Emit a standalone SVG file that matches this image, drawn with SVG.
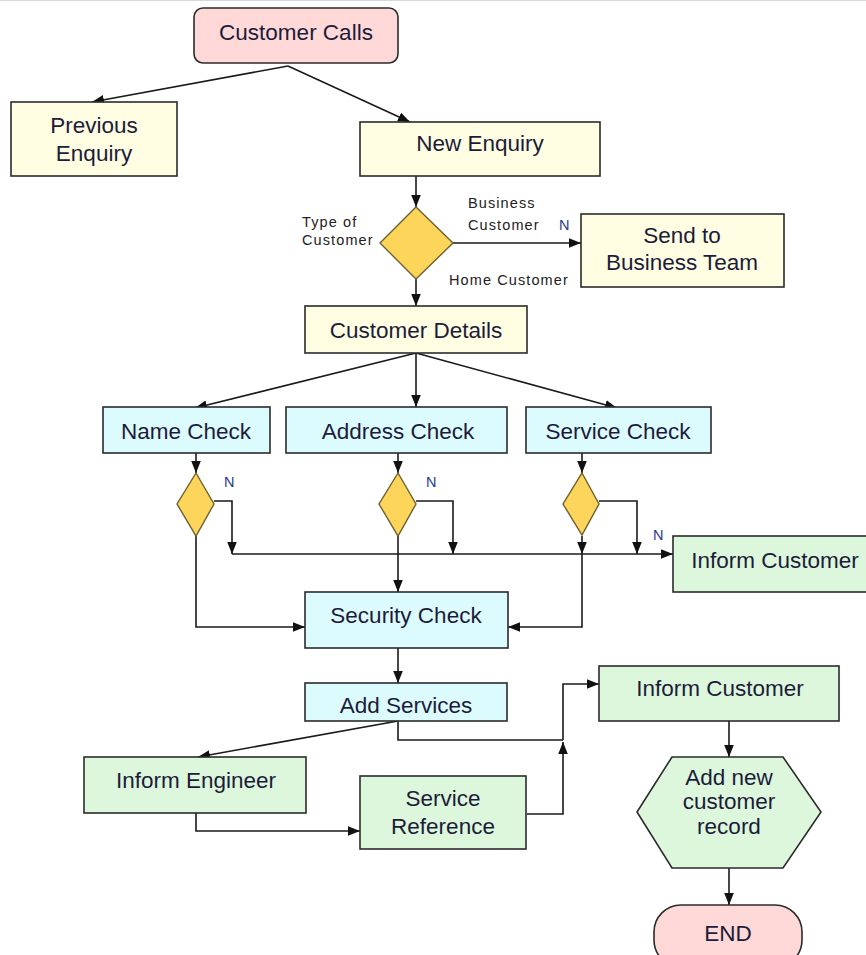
<svg xmlns="http://www.w3.org/2000/svg" width="866" height="955" viewBox="0 0 866 955">
  <style>
    .box { stroke: #2b2b2b; stroke-width: 1.6; }
    .start { fill: #ffd8d8; }
    .enq { fill: #fffde2; }
    .chk { fill: #dcfbff; }
    .act { fill: #dcf7dc; }
    .dec { fill: #fcd55a; stroke: #6e6030; stroke-width: 1.4; }
    .t { font-family: "Liberation Sans", Arial, sans-serif; font-size: 22.5px; fill: #1c1c3a; text-anchor: middle; }
    .s { font-family: "Liberation Sans", Arial, sans-serif; font-size: 14.5px; fill: #222; letter-spacing: 1.1px; }
    .n { font-family: "Liberation Sans", Arial, sans-serif; font-size: 14.5px; fill: #1e3c8c; }
    .c { fill: none; stroke: #1a1a1a; stroke-width: 1.6; }
  </style>
  <defs>
    <marker id="ah" viewBox="0 0 10 8" refX="10" refY="4" markerWidth="12" markerHeight="10" markerUnits="userSpaceOnUse" orient="auto">
      <path d="M0,0 L10,4 L0,8 z" fill="#111"/>
    </marker>
  </defs>

  <rect width="866" height="955" fill="#fff"/>
  <line x1="0" y1="0.5" x2="866" y2="0.5" stroke="#d8d8d8"/>

  <!-- connectors -->
  <g id="connectors" class="c">
    <path d="M288,66 L92,102" marker-end="url(#ah)"/>
    <path d="M288,66 L410,122" marker-end="url(#ah)"/>
    <path d="M416,176 L416,207" marker-end="url(#ah)"/>
    <path d="M453,243 L581,243" marker-end="url(#ah)"/>
    <path d="M416,279 L416,306" marker-end="url(#ah)"/>
    <path d="M416,353 L195,408" marker-end="url(#ah)"/>
    <path d="M416,353 L416,407" marker-end="url(#ah)"/>
    <path d="M416,353 L617,408" marker-end="url(#ah)"/>
    <path d="M196,453 L196,473" marker-end="url(#ah)"/>
    <path d="M398,453 L398,473" marker-end="url(#ah)"/>
    <path d="M582,453 L582,473" marker-end="url(#ah)"/>
    <path d="M214,501 L232,501 L232,554" marker-end="url(#ah)"/>
    <path d="M232,554 L673,554" marker-end="url(#ah)"/>
    <path d="M416,501 L453,501 L453,554" marker-end="url(#ah)"/>
    <path d="M599,501 L637,501 L637,554" marker-end="url(#ah)"/>
    <path d="M582,536 L582,554" marker-end="url(#ah)"/>
    <path d="M582,554 L582,627 L508,627" marker-end="url(#ah)"/>
    <path d="M196,536 L196,627 L305,627" marker-end="url(#ah)"/>
    <path d="M398,536 L398,592" marker-end="url(#ah)"/>
    <path d="M398,648 L398,683" marker-end="url(#ah)"/>
    <path d="M398,721 L198,757" marker-end="url(#ah)"/>
    <path d="M398,721 L398,740 L563,740"/>
    <path d="M527,814 L563,814 L563,742" marker-end="url(#ah)"/>
    <path d="M563,740 L563,684 L599,684" marker-end="url(#ah)"/>
    <path d="M196,813 L196,831 L360,831" marker-end="url(#ah)"/>
    <path d="M729,721 L729,757" marker-end="url(#ah)"/>
    <path d="M729,868 L729,905" marker-end="url(#ah)"/>
  </g>

  <!-- branch labels -->
  <g id="labels">
    <text class="s" x="302" y="227">Type of</text>
    <text class="s" x="302" y="245">Customer</text>
    <text class="s" x="468" y="208">Business</text>
    <text class="s" x="468" y="230">Customer</text>
    <text class="n" x="559" y="230">N</text>
    <text class="s" x="449" y="285">Home Customer</text>
    <text class="n" x="224" y="487">N</text>
    <text class="n" x="426" y="487">N</text>
    <text class="n" x="653" y="540">N</text>
  </g>

  <g id="customer-calls">
    <rect class="box start" x="194" y="8" width="204" height="55" rx="9"/>
    <text class="t" x="296" y="40">Customer Calls</text>
  </g>
  <g id="previous-enquiry">
    <rect class="box enq" x="11" y="102" width="166" height="74"/>
    <text class="t" x="94" y="133">Previous</text>
    <text class="t" x="94" y="161">Enquiry</text>
  </g>
  <g id="new-enquiry">
    <rect class="box enq" x="360" y="122" width="240" height="54"/>
    <text class="t" x="480" y="151">New Enquiry</text>
  </g>
  <g id="type-of-customer">
    <polygon class="dec" points="416,207 453,243 416,279 380,243"/>
  </g>
  <g id="send-to-business-team">
    <rect class="box enq" x="581" y="214" width="203" height="73"/>
    <text class="t" x="682" y="243">Send to</text>
    <text class="t" x="682" y="270">Business Team</text>
  </g>
  <g id="customer-details">
    <rect class="box enq" x="305" y="306" width="222" height="47"/>
    <text class="t" x="416" y="338">Customer Details</text>
  </g>
  <g id="name-check">
    <rect class="box chk" x="103" y="407" width="167" height="46"/>
    <text class="t" x="186" y="439">Name Check</text>
  </g>
  <g id="address-check">
    <rect class="box chk" x="286" y="407" width="221" height="46"/>
    <text class="t" x="398" y="439">Address Check</text>
  </g>
  <g id="service-check">
    <rect class="box chk" x="526" y="407" width="185" height="46"/>
    <text class="t" x="618" y="439">Service Check</text>
  </g>
  <g id="name-decision">
    <polygon class="dec" points="196,473 214,504 196,536 177,504"/>
  </g>
  <g id="address-decision">
    <polygon class="dec" points="398,473 416,504 398,536 379,504"/>
  </g>
  <g id="service-decision">
    <polygon class="dec" points="582,473 599,504 582,535 563,504"/>
  </g>
  <g id="inform-customer-n">
    <rect class="box act" x="673" y="536" width="200" height="56"/>
    <text class="t" x="775" y="568">Inform Customer</text>
  </g>
  <g id="security-check">
    <rect class="box chk" x="305" y="592" width="203" height="56"/>
    <text class="t" x="406" y="623">Security Check</text>
  </g>
  <g id="add-services">
    <rect class="box chk" x="305" y="683" width="202" height="38"/>
    <text class="t" x="406" y="713">Add Services</text>
  </g>
  <g id="inform-engineer">
    <rect class="box act" x="84" y="757" width="222" height="56"/>
    <text class="t" x="196" y="788">Inform Engineer</text>
  </g>
  <g id="service-reference">
    <rect class="box act" x="360" y="776" width="166" height="73"/>
    <text class="t" x="443" y="806">Service</text>
    <text class="t" x="443" y="834">Reference</text>
  </g>
  <g id="inform-customer">
    <rect class="box act" x="599" y="666" width="240" height="55"/>
    <text class="t" x="720" y="696">Inform Customer</text>
  </g>
  <g id="add-customer-record">
    <polygon class="box act" points="672,757 783,757 821,812 783,868 672,868 637,812"/>
    <text class="t" x="729" y="785">Add new</text>
    <text class="t" x="729" y="809">customer</text>
    <text class="t" x="729" y="834">record</text>
  </g>
  <g id="end">
    <rect class="box start" x="654" y="905" width="148" height="62" rx="27"/>
    <text class="t" x="728" y="941">END</text>
  </g>
</svg>
